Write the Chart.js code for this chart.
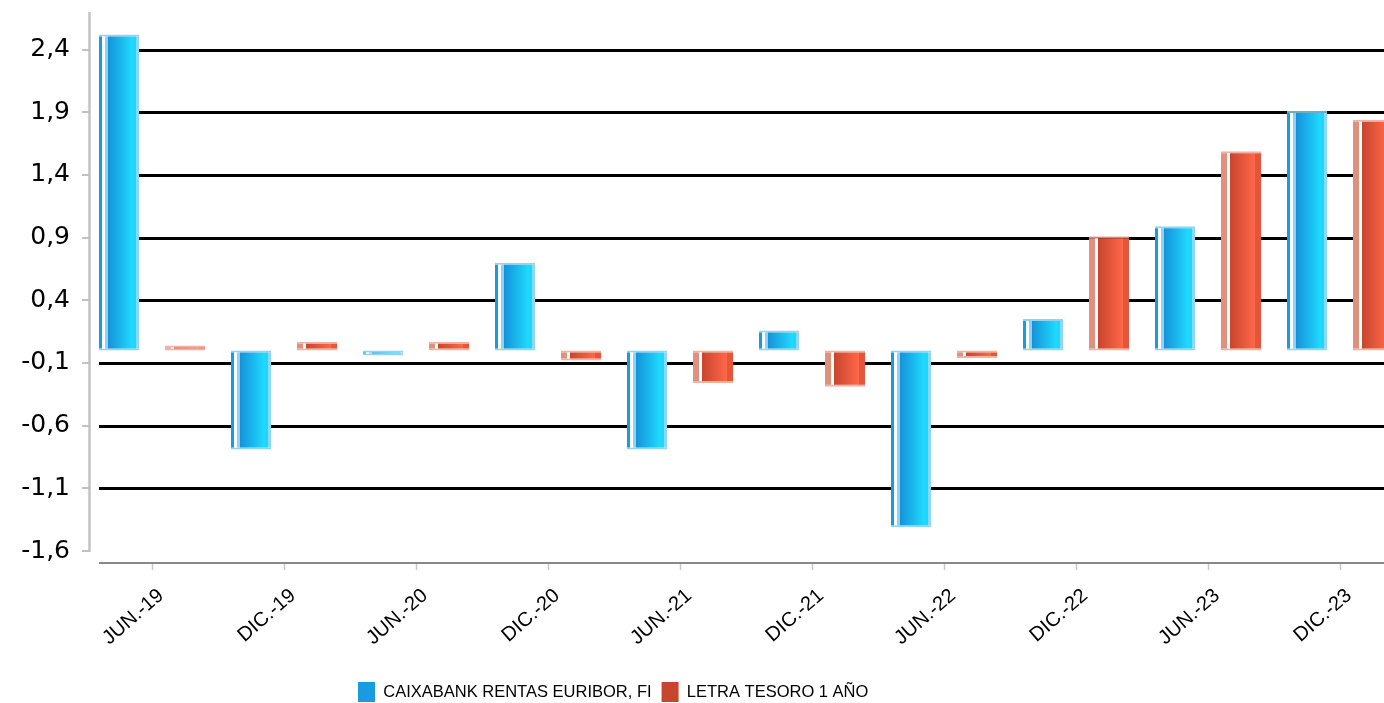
<!DOCTYPE html>
<html>
<head>
<meta charset="utf-8">
<script src="https://cdn.jsdelivr.net/npm/chart.js@4/dist/chart.umd.min.js"></script>
<style>
  html, body { margin: 0; padding: 0; background: #fff; overflow: hidden; }
  #wrap { position: relative; width: 1410px; height: 712px; }
</style>
</head>
<body>
<div id="wrap"><canvas id="chart"></canvas></div>
<script>
// data
const categories = ['JUN.-19', 'DIC.-19', 'JUN.-20', 'DIC.-20', 'JUN.-21', 'DIC.-21', 'JUN.-22', 'DIC.-22', 'JUN.-23', 'DIC.-23'];
const fundValues = [2.52, -0.79, -0.04, 0.70, -0.79, 0.16, -1.41, 0.25, 0.99, 1.91];
const letraValues = [0.04, 0.07, 0.07, -0.08, -0.26, -0.29, -0.06, 0.91, 1.59, 1.84];
const yTicks = [-1.6, -1.1, -0.6, -0.1, 0.4, 0.9, 1.4, 1.9, 2.4];
const seriesNames = ['CAIXABANK RENTAS EURIBOR, FI', 'LETRA TESORO 1 AÑO'];

const blueStops = [
    [0, '#1a9ae0'], [0.075, '#1a9ae0'], [0.075, '#ffffff'], [0.15, '#ffffff'],
    [0.15, '#8fd3f4'], [0.225, '#8fd3f4'], [0.225, '#1592da'], [0.85, '#1fdcff'],
    [0.85, '#1ed6fb'], [0.92, '#1ed6fb'], [0.92, '#8dd6f4'], [1, '#8dd6f4']
];
const redStops = [
    [0, '#e0907f'], [0.14, '#e0907f'], [0.14, '#ffffff'], [0.225, '#ffffff'],
    [0.225, '#c9442e'], [0.85, '#ff6848'], [0.85, '#e4553b'], [1, '#e4553b']
];

// horizontal gradient across each bar, built from the element the library placed
function barFill(stops, fallback) {
    return function(c) {
        const el = c.element;
        if (!el || !isFinite(el.x) || !isFinite(el.width)) return fallback;
        const x0 = el.x - el.width / 2;
        const g = c.chart.ctx.createLinearGradient(x0, 0, x0 + el.width, 0);
        stops.forEach(s => g.addColorStop(s[0], s[1]));
        return g;
    };
}

const axisPlugin = {
    id: 'axisLines',
    afterLayout(chart) {
        // legend sits left of centre in the original
        chart.legend.left = 348;
    },
    beforeDatasetsDraw(chart) {
        const { ctx, chartArea } = chart;
        const x = chart.scales.x, y = chart.scales.y;
        ctx.save();
        // grid lines
        ctx.strokeStyle = '#000';
        ctx.lineWidth = 3;
        y.ticks.forEach(t => {
            if (t.value === y.min) return;
            const py = Math.round(y.getPixelForValue(t.value));
            ctx.beginPath();
            ctx.moveTo(chartArea.left + 13, py + 0.5);
            ctx.lineTo(chart.width, py + 0.5);
            ctx.stroke();
        });
        // y axis line + tick marks
        ctx.strokeStyle = '#c2c2c2';
        ctx.lineWidth = 2.5;
        ctx.beginPath();
        ctx.moveTo(chartArea.left + 3.5, chartArea.top);
        ctx.lineTo(chartArea.left + 3.5, chartArea.bottom + 1);
        ctx.stroke();
        ctx.lineWidth = 2;
        y.ticks.forEach(t => {
            const py = Math.round(y.getPixelForValue(t.value));
            ctx.beginPath();
            ctx.moveTo(chartArea.left - 4, py);
            ctx.lineTo(chartArea.left + 3, py);
            ctx.stroke();
        });
        // x axis line + tick marks
        const ay = Math.round(chartArea.bottom) + 12;
        ctx.strokeStyle = '#888';
        ctx.lineWidth = 2;
        ctx.beginPath();
        ctx.moveTo(chartArea.left + 13, ay);
        ctx.lineTo(chart.width, ay);
        ctx.stroke();
        ctx.strokeStyle = '#c8c8c8';
        ctx.lineWidth = 1.5;
        categories.forEach((c, i) => {
            const px = Math.round(x.getPixelForValue(i)) + 0.5;
            ctx.beginPath();
            ctx.moveTo(px, ay + 1);
            ctx.lineTo(px, ay + 7);
            ctx.stroke();
        });
        ctx.restore();
    }
};

const ctx = document.getElementById('chart').getContext('2d');
const chart = new Chart(ctx, {
    type: 'bar',
    data: {
        labels: categories,
        datasets: [{
            label: seriesNames[0],
            data: fundValues,
            backgroundColor: barFill(blueStops, '#1a9ae0'),
            borderColor: 'rgba(125,205,242,0.85)',
            borderWidth: { top: 2, bottom: 2, left: 0, right: 0 },
            borderSkipped: false,
            categoryPercentage: 1,
            barPercentage: 0.606
        }, {
            label: seriesNames[1],
            data: letraValues,
            backgroundColor: barFill(redStops, '#c8452f'),
            borderColor: 'rgba(238,165,150,0.85)',
            borderWidth: { top: 2, bottom: 2, left: 0, right: 0 },
            borderSkipped: false,
            categoryPercentage: 1,
            barPercentage: 0.606
        }]
    },
    options: {
        responsive: true,
        maintainAspectRatio: false,
        animation: false,
        layout: { padding: { left: 0, right: 4, top: 12, bottom: 0 } },
        plugins: {
            tooltip: { enabled: false },
            legend: {
                position: 'bottom',
                align: 'start',
                labels: {
                    boxWidth: 17,
                    boxHeight: 20,
                    padding: 10,
                    color: '#000',
                    font: { family: 'Liberation Sans', size: 16.5 },
                    generateLabels: () => [
                        { text: seriesNames[0], fillStyle: '#1a9ae0', strokeStyle: '#1a9ae0', lineWidth: 0, datasetIndex: 0 },
                        { text: seriesNames[1], fillStyle: '#c8452f', strokeStyle: '#c8452f', lineWidth: 0, datasetIndex: 1 }
                    ]
                }
            }
        },
        scales: {
            x: {
                offset: true,
                grid: { display: false, drawTicks: false },
                border: { display: false },
                ticks: {
                    autoSkip: false,
                    minRotation: 41,
                    maxRotation: 41,
                    padding: 33,
                    labelOffset: 9,
                    color: '#000',
                    font: { family: 'Liberation Sans', size: 20 }
                },
                afterFit: s => { s.height = 121; s.paddingLeft = 0; s.paddingRight = 0; }
            },
            y: {
                min: -1.6,
                max: 2.7,
                grid: { display: false, drawTicks: false },
                border: { display: false },
                afterBuildTicks: s => { s.ticks = yTicks.map(v => ({ value: v })); },
                afterFit: s => { s.width = 86; s.paddingTop = 0; s.paddingBottom = 0; },
                ticks: {
                    padding: 16,
                    color: '#000',
                    font: { family: 'DejaVu Sans', size: 25 },
                    callback: v => Number(v).toFixed(1).replace('.', ',')
                }
            }
        }
    },
    plugins: [axisPlugin]
});
// second pass so the gradients can use the bar positions from the first
chart.update();
</script>
</body>
</html>
